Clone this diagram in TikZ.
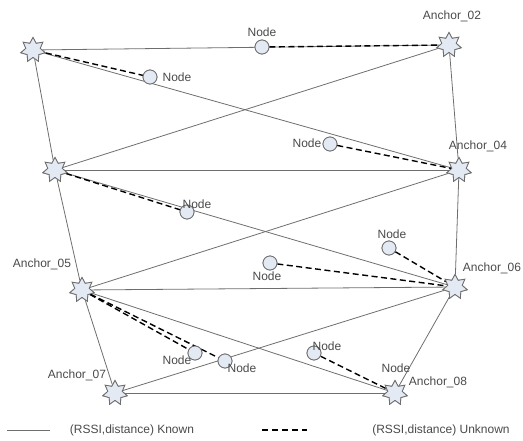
\documentclass[tikz,border=0pt]{standalone}
\usepackage{fontspec}
\setmainfont{Liberation Sans}
\usetikzlibrary{shapes.geometric}
\definecolor{linegray}{HTML}{6E6E6E}
\definecolor{fillblue}{HTML}{E4EAF4}
\definecolor{txtgray}{HTML}{4A4A4A}
\begin{document}
\begin{tikzpicture}[x=1pt,y=-1pt,
  anchorstar/.style={star,star points=7,star point ratio=1.7,minimum size=25pt,inner sep=0pt,draw=linegray,fill=fillblue,line width=0.8pt},
  nodecirc/.style={circle,minimum size=14pt,inner sep=0pt,draw=linegray,fill=fillblue,line width=0.8pt},
  lbl/.style={text=txtgray,font=\fontsize{12}{14}\selectfont,inner sep=0pt},
  known/.style={draw=linegray,line width=0.8pt},
  unknown/.style={draw=black,line width=1.4pt,dash pattern=on 6pt off 3.5pt}]
\useasboundingbox (0,0) rectangle (523,441);
% anchors
\node[anchorstar] (a1) at (33,50) {};
\node[anchorstar] (a2) at (449,45) {};
\node[anchorstar] (a3) at (55,170) {};
\node[anchorstar] (a4) at (459,170) {};
\node[anchorstar] (a5) at (82,290) {};
\node[anchorstar] (a6) at (455,287) {};
\node[anchorstar] (a7) at (115,393) {};
\node[anchorstar] (a8) at (395,393) {};
% unknown nodes
\node[nodecirc] (n1) at (150,77) {};
\node[nodecirc] (n2) at (262,47) {};
\node[nodecirc] (n3) at (330,144) {};
\node[nodecirc] (n4) at (187,212) {};
\node[nodecirc] (n5) at (389,248) {};
\node[nodecirc] (n6) at (270,263) {};
\node[nodecirc] (n7) at (195,353) {};
\node[nodecirc] (n8) at (225,361) {};
\node[nodecirc] (n9) at (314,353) {};
% known links
\begin{scope}[known]
\draw (a1) -- (a2);
\draw (a1) -- (a3);
\draw (a1) -- (a4);
\draw (a2) -- (a3);
\draw (a2) -- (a4);
\draw (a3) -- (a4);
\draw (a3) -- (a5);
\draw (a3) -- (a6);
\draw (a4) -- (a5);
\draw (a4) -- (a6);
\draw (a5) -- (a6);
\draw (a5) -- (a7);
\draw (a5) -- (a8);
\draw (a6) -- (a7);
\draw (a6) -- (a8);
\draw (a7) -- (a8);
\end{scope}
% unknown links
\begin{scope}[unknown]
\draw (a1) -- (n1);
\draw (n2) -- (a2);
\draw (n3) -- (a4);
\draw (a3) -- (n4);
\draw (n5) -- (a6);
\draw (n6) -- (a6);
\draw (a5) -- (n7);
\draw (a5) -- (n8);
\draw (n9) -- (a8);
\end{scope}
% redraw shapes on top
\foreach \n in {a1,a2,a3,a4,a5,a6,a7,a8}{\node[anchorstar] at (\n.center) {};}
\foreach \n in {n1,n2,n3,n4,n5,n6,n7,n8,n9}{\node[nodecirc] at (\n.center) {};}
% labels
\node[lbl] (l2) at (452,16) {Anchor\_02};
\node[lbl] (l4) at (478,146) {Anchor\_04};
\node[lbl] (l5) at (42,264) {Anchor\_05};
\node[lbl] (l6) at (492,268) {Anchor\_06};
\node[lbl] (l7) at (77,375) {Anchor\_07};
\node[lbl] (l8) at (438,382) {Anchor\_08};
\node[lbl] (t1) at (177,77) {Node};
\node[lbl] (t2) at (262,32) {Node};
\node[lbl] (t3) at (307,143) {Node};
\node[lbl] (t4) at (197,204) {Node};
\node[lbl] (t5) at (392,234) {Node};
\node[lbl] (t6) at (267,276) {Node};
\node[lbl] (t7) at (177,360) {Node};
\node[lbl] (t8) at (242,368) {Node};
\node[lbl] (t9) at (327,346) {Node};
\node[lbl] (t10) at (396,368) {Node};
% legend
\coordinate (k1) at (7,430);
\coordinate (k2) at (50,430);
\draw[known] (k1) -- (k2);
\node[lbl] (kt) at (132,430) {(RSSI,distance) Known};
\coordinate (u1) at (262,430);
\coordinate (u2) at (307,430);
\draw[draw=black,line width=1.2pt,dash pattern=on 6pt off 4pt] (u1) -- (u2);
\node[lbl] (ut) at (441,430) {(RSSI,distance) Unknown};
\end{tikzpicture}
\end{document}
